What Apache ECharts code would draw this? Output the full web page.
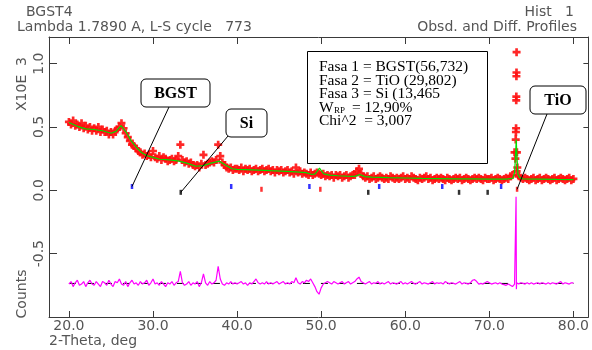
<!DOCTYPE html>
<html>
<head>
<meta charset="utf-8">
<script src="https://cdn.jsdelivr.net/npm/echarts@6/dist/echarts.min.js"></script>
<style>
  html, body { margin: 0; padding: 0; background: #fff; }
  #chart { width: 592px; height: 350px; }
</style>
</head>
<body>
<div id="chart"></div>
<script>
// observed profile, one value every 0.25 deg from 20.0 to 80.0
const thetaStart = 20;
const thetaStep = 0.25;
const obsCounts = [
  0.54,0.52,0.55,0.51, 0.52,0.50,0.53,0.49, 0.51,0.48,0.50,0.47, 0.49,0.47,0.50,0.46, 0.48,0.46,0.47,0.44,
  0.46,0.44,0.47,0.48, 0.50,0.53,0.49,0.45, 0.42,0.39,0.36,0.35, 0.33,0.31,0.30,0.28, 0.29,0.27,0.28,0.26,
  0.31,0.26,0.25,0.27, 0.24,0.26,0.25,0.23, 0.24,0.25,0.23,0.24, 0.27,0.36,0.24,0.22, 0.23,0.21,0.22,0.20,
  0.19,0.20,0.18,0.21, 0.28,0.20,0.21,0.22, 0.23,0.22,0.24,0.36, 0.27,0.22,0.20,0.18, 0.17,0.18,0.16,0.17,
  0.17,0.16,0.18,0.15, 0.17,0.16,0.17,0.15, 0.16,0.17,0.15,0.16, 0.17,0.15,0.16,0.17, 0.15,0.16,0.14,0.16,
  0.15,0.16,0.14,0.15, 0.16,0.14,0.15,0.13, 0.18,0.14,0.15,0.13, 0.14,0.13,0.12,0.14, 0.12,0.13,0.14,0.13,
  0.12,0.13,0.11,0.12, 0.11,0.12,0.10,0.12, 0.11,0.12,0.10,0.11, 0.12,0.10,0.11,0.12, 0.12,0.15,0.17,0.13,
  0.11,0.10,0.11,0.09, 0.10,0.11,0.09,0.10, 0.11,0.10,0.09,0.10, 0.09,0.11,0.10,0.09, 0.10,0.09,0.10,0.11,
  0.09,0.10,0.09,0.11, 0.10,0.09,0.08,0.10, 0.09,0.10,0.11,0.09, 0.10,0.08,0.09,0.10, 0.09,0.10,0.09,0.08,
  0.10,0.09,0.08,0.09, 0.10,0.09,0.10,0.08, 0.09,0.10,0.09,0.08, 0.09,0.10,0.09,0.10, 0.09,0.08,0.10,0.09,
  0.09,0.10,0.08,0.09, 0.10,0.09,0.08,0.09, 0.10,0.09,0.11,0.12, 0.30,0.15,0.11,0.10, 0.09,0.10,0.09,0.08,
  0.09,0.10,0.08,0.09, 0.10,0.08,0.09,0.10, 0.09,0.08,0.09,0.10, 0.08,0.09,0.10,0.09, 0.08,0.09,0.10,0.08,
  0.09
];
// extra observed points inside the sharp TiO reflection
const tioPeakObs = [
  [73.10, 0.25], [73.14, 0.40], [73.16, 0.46], [73.18, 0.49], [73.20, 0.71],
  [73.21, 0.74], [73.22, 0.90], [73.23, 0.93], [73.24, 1.09], [73.28, 0.30], [73.33, 0.18]
];

// calculated profile
const calcTheta = [20, 21, 22, 23, 24, 25, 25.6, 26.2, 26.8, 27.4, 28, 28.6, 29.2, 30, 30.8, 32, 33.1, 34, 35.1,
  36, 36.9, 37.9, 38.6, 39.4, 40, 41.8, 44, 45.8, 47, 48.2, 48.9, 49.3, 49.8, 50.3, 51, 52, 53, 54, 54.6,
  55.2, 56, 58, 60, 62, 64, 66, 68, 70, 72, 72.8, 73.0, 73.1, 73.2, 73.3, 73.4, 73.6, 74, 76, 78, 80];
const calcCounts = [0.535, 0.505, 0.485, 0.48, 0.47, 0.45, 0.465, 0.51, 0.46, 0.39, 0.34, 0.30, 0.275, 0.26, 0.245, 0.24, 0.23, 0.215, 0.19,
  0.195, 0.215, 0.23, 0.20, 0.17, 0.165, 0.162, 0.155, 0.15, 0.145, 0.14, 0.125, 0.13, 0.175, 0.13, 0.12, 0.115, 0.112, 0.11, 0.125,
  0.108, 0.104, 0.10, 0.097, 0.094, 0.092, 0.09, 0.09, 0.088, 0.088, 0.095, 0.14, 0.25, 0.40, 0.25, 0.13, 0.10, 0.09, 0.088, 0.086, 0.085];

// difference curve (obs - calc, shifted), same 0.25 deg steps
const diffCounts = [
  -0.74,-0.72,-0.76,-0.73, -0.71,-0.75,-0.74,-0.72, -0.76,-0.73,-0.71,-0.74, -0.75,-0.72,-0.74,-0.76, -0.72,-0.73,-0.75,-0.71,
  -0.74,-0.76,-0.72,-0.73, -0.70,-0.74,-0.75,-0.72, -0.76,-0.73,-0.71,-0.74, -0.73,-0.75,-0.72,-0.74, -0.73,-0.71,-0.75,-0.73,
  -0.70,-0.74,-0.73,-0.75, -0.72,-0.74,-0.76,-0.73, -0.74,-0.72,-0.75,-0.73, -0.72,-0.64,-0.73,-0.75, -0.74,-0.72,-0.75,-0.73,
  -0.74,-0.72,-0.76,-0.73, -0.66,-0.73,-0.75,-0.72, -0.74,-0.73,-0.71,-0.60, -0.70,-0.74,-0.75,-0.73, -0.74,-0.72,-0.74,-0.73,
  -0.74,-0.73,-0.72,-0.74, -0.73,-0.75,-0.73,-0.74, -0.72,-0.70,-0.73,-0.74, -0.73,-0.74,-0.72,-0.74, -0.73,-0.74,-0.73,-0.72,
  -0.74,-0.73,-0.72,-0.74, -0.73,-0.74,-0.72,-0.73, -0.69,-0.73,-0.74,-0.72, -0.73,-0.71,-0.72,-0.70, -0.73,-0.76,-0.80,-0.82,
  -0.77,-0.74,-0.73,-0.72, -0.73,-0.74,-0.72,-0.73, -0.74,-0.73,-0.72,-0.74, -0.73,-0.72,-0.74,-0.73, -0.72,-0.70,-0.685,-0.72,
  -0.73,-0.74,-0.73,-0.72, -0.74,-0.73,-0.735,-0.72, -0.74,-0.73,-0.74,-0.73, -0.72,-0.74,-0.73,-0.735, -0.74,-0.73,-0.72,-0.74,
  -0.73,-0.74,-0.73,-0.72, -0.735,-0.74,-0.73,-0.72, -0.74,-0.73,-0.735,-0.74, -0.73,-0.72,-0.74,-0.73, -0.735,-0.73,-0.74,-0.72,
  -0.73,-0.74,-0.73,-0.735, -0.74,-0.73,-0.72,-0.74, -0.73,-0.735,-0.74,-0.73, -0.71,-0.705,-0.72,-0.74, -0.735,-0.74,-0.73,-0.72,
  -0.73,-0.74,-0.735,-0.73, -0.74,-0.73,-0.74,-0.745, -0.75,-0.74,-0.75,-0.76, -0.74,-0.73,-0.74,-0.73, -0.735,-0.74,-0.73,-0.74,
  -0.73,-0.74,-0.735,-0.73, -0.74,-0.73,-0.735,-0.74, -0.73,-0.74,-0.73,-0.735, -0.74,-0.73,-0.72,-0.74, -0.73,-0.735,-0.74,-0.73,
  -0.73
];
const diffSpike = [[73.12, -0.74], [73.18, -0.05], [73.22, -0.78]];
const diffZero = -0.735;

// reflection tick marks of each phase
const bgstTicks = [27.5, 39.3, 48.6, 56.9, 64.4, 71.4];
const tioTicks = [42.9, 49.9, 73.3];
const siTicks = [33.3, 55.6, 66.4, 69.8];
const bgstTickY = 0.03, tioTickY = 0.008, siTickY = -0.016;

const xTicks = [20, 30, 40, 50, 60, 70, 80];
const yTicks = [-0.5, 0, 0.5, 1.0];

const legendLines = ['Fasa 1 = BGST(56,732)', 'Fasa 2 = TiO (29,802)', 'Fasa 3 = Si (13,465'];

const chart = echarts.init(document.getElementById('chart'));

const obsData = obsCounts.map((v, i) => [thetaStart + i * thetaStep, v]).concat(tioPeakObs);
const calcData = calcTheta.map((t, i) => [t, calcCounts[i]]);
const diffData = diffCounts.map((v, i) => [thetaStart + i * thetaStep, v])
  .concat(diffSpike).sort((a, b) => a[0] - b[0]);

const axisColor = '#3a3a3a';
const labelColor = '#555';
const hershey = '"DejaVu Sans", sans-serif';
const plus = 'path://M2,0H4V2H6V4H4V6H2V4H0V2H2Z';

function frameAxis(pos, ticks, len, label, extra) {
  return Object.assign({
    type: 'value',
    position: pos,
    splitLine: { show: false },
    axisLine: { onZero: false, lineStyle: { color: axisColor, width: 1 } },
    axisTick: { inside: true, length: len, customValues: ticks, lineStyle: { color: axisColor } },
    axisLabel: label
      ? Object.assign({ customValues: ticks, formatter: v => v.toFixed(1), color: labelColor, fontFamily: hershey, fontSize: 14 }, label)
      : { show: false }
  }, extra);
}

chart.setOption({
  animation: false,
  grid: { left: 49, right: 1, top: 37, bottom: 33 },
  xAxis: [
    frameAxis('bottom', xTicks, 6, { margin: 2 }, { min: 17.63, max: 81.78 }),
    frameAxis('top', xTicks, 7, null, { min: 17.63, max: 81.78 })
  ],
  yAxis: [
    frameAxis('left', yTicks, 8, { rotate: 90, margin: 3 }, { min: -1.0, max: 1.21 }),
    frameAxis('right', yTicks, 5, null, { min: -1.0, max: 1.21 })
  ],
  series: [
    {
      type: 'line', data: [[20, diffZero], [80, diffZero]], symbol: 'none', z: 1,
      lineStyle: { color: '#000', width: 1, type: [7, 11] }
    },
    {
      type: 'line', data: diffData, symbol: 'none', z: 2,
      lineStyle: { color: '#ff00ff', width: 1.2 }
    },
    {
      type: 'scatter', data: obsData, symbol: plus, symbolSize: 8, z: 3,
      itemStyle: { color: '#ff1010', opacity: 0.9 }
    },
    {
      type: 'line', data: calcData, symbol: 'none', z: 4,
      lineStyle: { color: '#00e000', width: 1.2 }
    },
    {
      type: 'scatter', data: bgstTicks.map(t => [t, bgstTickY]), symbol: 'rect', symbolSize: [2.5, 5], z: 4,
      itemStyle: { color: '#0000ff' }
    },
    {
      type: 'scatter', data: tioTicks.map(t => [t, tioTickY]), symbol: 'rect', symbolSize: [2.5, 5], z: 4,
      itemStyle: { color: '#ff0000' }
    },
    {
      type: 'scatter', data: siTicks.map(t => [t, siTickY]), symbol: 'rect', symbolSize: [2.5, 5], z: 4,
      itemStyle: { color: '#000' }
    }
  ]
});

const px = (t, v) => chart.convertToPixel({ xAxisIndex: 0, yAxisIndex: 0 }, [t, v]);
const bgstEnd = px(bgstTicks[0], bgstTickY);
const siEnd = px(siTicks[0], siTickY);
const tioEnd = px(tioTicks[2], tioTickY);

const txt = (x, y, text, font, extra) => ({
  type: 'text', x: x, y: y, z: 20,
  style: Object.assign({ text: text, font: font, fill: labelColor, verticalAlign: 'middle' }, extra)
});
const serif = '"Liberation Serif", "Times New Roman", serif';
const headFont = '14px ' + hershey;

function callout(x, y, w, h, label, from, to) {
  return [
    { type: 'line', z: 18, shape: { x1: from[0], y1: from[1], x2: to[0], y2: to[1] }, style: { stroke: '#000', lineWidth: 1 } },
    { type: 'rect', z: 19, shape: { x: x, y: y, width: w, height: h, r: 5 }, style: { fill: '#fff', stroke: '#000', lineWidth: 1 } },
    txt(x + w / 2, y + h / 2 + 1, label, 'bold 16px ' + serif, { fill: '#000', align: 'center' })
  ];
}

const graphics = [
  txt(26, 12, 'BGST4', headFont),
  txt(17, 27, 'Lambda 1.7890 A, L-S cycle   773', headFont),
  txt(574, 12, 'Hist   1', headFont, { align: 'right' }),
  txt(577, 27, 'Obsd. and Diff. Profiles', headFont, { align: 'right' }),
  Object.assign(txt(22, 84, 'X10E  3', headFont, { align: 'center' }), { rotation: Math.PI / 2 }),
  Object.assign(txt(22, 294, 'Counts', headFont, { align: 'center' }), { rotation: Math.PI / 2 }),
  txt(49, 341, '2-Theta, deg', headFont),
  { type: 'rect', z: 19, shape: { x: 307.5, y: 51.5, width: 180, height: 112 }, style: { fill: '#fff', stroke: '#000', lineWidth: 1 } }
];
legendLines.forEach((s, i) => graphics.push(txt(319, 67 + i * 13.5, s, '15.5px ' + serif, { fill: '#000' })));
graphics.push(txt(319, 107.5, 'W', '15.5px ' + serif, { fill: '#000' }));
graphics.push(txt(334, 110.5, 'RP', '9px ' + serif, { fill: '#000' }));
graphics.push(txt(352, 107.5, '= 12,90%', '15.5px ' + serif, { fill: '#000' }));
graphics.push(txt(319, 121, 'Chi^2  = 3,007', '15.5px ' + serif, { fill: '#000' }));

graphics.push(...callout(141, 79, 69, 28, 'BGST', [169, 107], bgstEnd));
graphics.push(...callout(226, 109, 41, 28, 'Si', [228, 136], siEnd));
graphics.push(...callout(530, 86, 56, 28, 'TiO', [547, 114], tioEnd));

chart.setOption({ graphic: graphics });
</script>
</body>
</html>
